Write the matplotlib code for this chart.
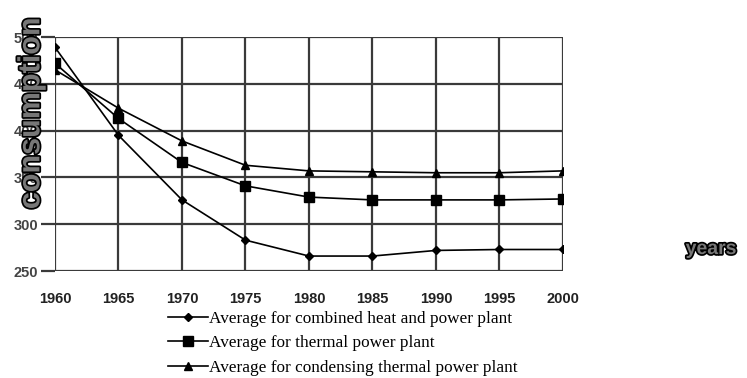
import matplotlib.pyplot as plt
import matplotlib.patheffects as pe

plt.rcParams["font.family"] = ["Liberation Sans", "DejaVu Sans"]

years = [1960, 1965, 1970, 1975, 1980, 1985, 1990, 1995, 2000]
chp = [489, 395, 326, 283, 266, 266, 272, 273, 273]
thermal = [472, 413, 366, 341, 329, 326, 326, 326, 327]
condensing = [465, 424, 389, 363, 357, 356, 355, 355, 357]
yticks = [250, 300, 350, 400, 450, 500]

labels = ["Average for combined heat and power plant",
          "Average for thermal power plant",
          "Average for condensing thermal power plant"]

fig = plt.figure(figsize=(7.47, 3.78), dpi=100)
ax = fig.add_axes([0.0736, 0.283, 0.680, 0.619])

ax.plot(years, chp, color="black", lw=1.2, marker="D", ms=4.5, label=labels[0])
ax.plot(years, thermal, color="black", lw=1.2, marker="s", ms=7, label=labels[1])
ax.plot(years, condensing, color="black", lw=1.2, marker="^", ms=5.5, label=labels[2])

ax.set_xlim(1960, 2000)
ax.set_ylim(250, 500)
ax.set_xticks(years)
ax.set_yticks(yticks)
ax.grid(True, color="#3a3a3a", lw=1.6)
for s in ax.spines.values():
    s.set_visible(False)
ax.tick_params(axis="x", length=0, pad=15, labelsize=10.5, labelcolor="#222222")
ax.tick_params(axis="y", length=10, width=1.6, color="#3a3a3a", pad=2,
               labelsize=10.5, labelcolor="#444444")
for t in ax.get_xticklabels() + ax.get_yticklabels():
    t.set_fontweight("bold")

outline = [pe.withStroke(linewidth=2.5, foreground="black")]
fig.text(0.042, 0.70, "consumption", rotation=90, ha="center", va="center",
         fontsize=22, fontweight="bold", color="#777777", path_effects=outline)
fig.text(0.952, 0.34, "years", ha="center", va="center",
         fontsize=14, fontweight="bold", color="#777777", path_effects=outline)

fig.legend(loc="upper left", bbox_to_anchor=(0.225, 0.178), frameon=False,
           prop={"family": "Liberation Serif", "size": 12.4},
           handlelength=2.3, handletextpad=0.1, labelspacing=0.5,
           borderaxespad=0, borderpad=0)

fig.savefig("out.png", dpi=100)
